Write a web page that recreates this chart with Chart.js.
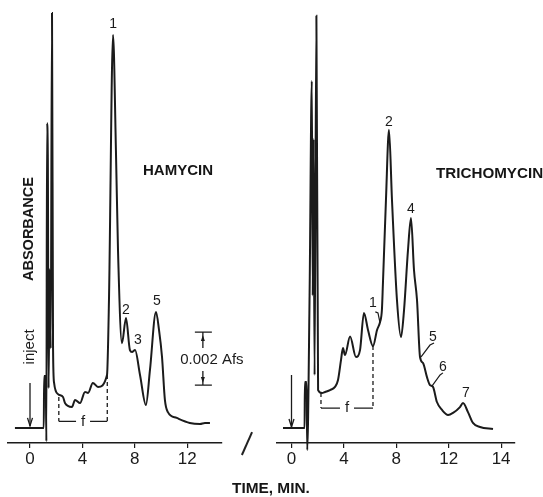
<!DOCTYPE html>
<html><head><meta charset="utf-8">
<script src="https://cdn.jsdelivr.net/npm/chart.js@4/dist/chart.umd.min.js"></script>
<style>
html,body{margin:0;padding:0;background:#fff;}
#wrap{position:relative;width:543px;height:497px;overflow:hidden;font-family:"Liberation Sans",Arial,sans-serif;color:#151515;}
canvas{position:absolute;top:0;}
.t{position:absolute;white-space:nowrap;font-weight:bold;}
</style></head>
<body><div id="wrap">
<canvas id="c1" width="260" height="497" style="left:0"></canvas>
<canvas id="c2" width="283" height="497" style="left:260px"></canvas>
<div class="t" style="left:143px;top:161px;font-size:15px;">HAMYCIN</div>
<div class="t" style="left:436px;top:164px;font-size:15.2px;">TRICHOMYCIN</div>
<div class="t" style="left:28px;top:229px;font-size:14.5px;transform:translate(-50%,-50%) rotate(-90deg);">ABSORBANCE</div>
<div class="t" style="left:232px;top:479px;font-size:15.4px;">TIME, MIN.</div>
<div style="position:absolute;left:246px;top:431px;width:1.6px;height:25px;background:#222;transform:rotate(24deg);"></div>
</div>
<script>
// ---- data (time in min, absorbance in mAU above baseline) ----
const hamycinTime = [-1.15, 1.05, 1.08, 1.2, 1.25, 1.3, 1.36, 1.42, 1.5, 1.58, 1.68, 1.76, 1.84, 2.14, 2.52, 2.67, 3.2, 3.44, 3.82, 4.2, 4.43, 4.8, 5.19, 5.88, 6.03, 6.34, 6.56, 6.72, 7.02, 7.33, 7.63, 7.79, 8.02, 8.4, 8.85, 9.16, 9.62, 9.85, 10.08, 10.3, 10.53, 11.2, 12.2, 12.98, 13.36, 13.74];
const hamycinAbs = [0, 0, 1.96, 1.96, -0.5, 11.5, 10.3, 1.5, 6, 3, 15.66, 3, 1.7, 1.28, 1.17, 0.94, 0.79, 1.06, 0.94, 1.36, 1.32, 1.70, 1.55, 2.0, 4.83, 14.83, 10.5, 6.7, 3.2, 4.15, 2.94, 2.87, 2.94, 2.0, 0.87, 2.19, 4.38, 3.7, 2.68, 1.06, 0.6, 0.38, 0.19, 0.15, 0.19, 0.19];

const trichoTime = [-0.65, 1.0, 1.02, 1.15, 1.2, 1.38, 1.55, 1.62, 1.68, 1.76, 1.9, 2.03, 2.33, 2.56, 2.94, 3.32, 3.55, 3.78, 3.93, 4.08, 4.47, 4.92, 5.23, 5.53, 5.84, 6.22, 6.53, 6.76, 6.9, 6.98, 7.21, 7.44, 7.67, 8.05, 8.36, 8.59, 8.89, 9.12, 9.35, 9.58, 9.81, 10.04, 10.34, 10.57, 10.8, 11.1, 11.49, 11.95, 12.33, 12.86, 13.09, 13.47, 13.85, 14.39, 15.38];
const trichoAbs = [0, 0, 1.74, 1.74, -0.83, 5, 13.09, 5, 10.9, 2, 15.55, 1.43, 1.32, 1.36, 1.43, 1.55, 1.81, 2.57, 3.02, 2.75, 3.45, 2.68, 2.94, 4.34, 3.70, 3.09, 3.70, 4.0, 4.45, 5.47, 8.6, 11.25, 8.6, 4.83, 3.43, 4.45, 6.7, 7.92, 5.96, 4.83, 2.68, 2.45, 1.92, 1.62, 1.55, 0.98, 0.68, 0.49, 0.57, 0.79, 0.94, 0.60, 0.19, 0.04, -0.04];

const hamycinTicks = [0, 4, 8, 12];
const hamycinTickLabels = ['0', '4', '8', '12'];
const trichoTicks = [0, 4, 8, 12, 16];
const trichoTickLabels = ['0', '4', '8', '12', '14'];

const hamycinPeakNames = ['1', '2', '3', '5'];
const hamycinPeakTimes = [6.34, 7.33, 8.24, 9.69];
const hamycinPeakAbs = [15.25, 4.45, 3.32, 4.79];

const trichoPeakNames = ['1', '2', '4', '5', '6', '7'];
const trichoPeakTimes = [6.22, 7.44, 9.12, 10.8, 11.56, 13.32];
const trichoPeakAbs = [4.72, 11.55, 8.26, 3.43, 2.3, 1.32];

// ---- annotation plugin ----
const INK = '#1b1b1b';
const annoPlugin = {
  id: 'chromAnno',
  afterDatasetsDraw(chart, args, o) {
    const {ctx, scales: {x, y}} = chart;
    const X = v => x.getPixelForValue(v), Y = v => y.getPixelForValue(v);
    ctx.save();
    ctx.fillStyle = INK; ctx.strokeStyle = INK;
    ctx.textAlign = 'center'; ctx.textBaseline = 'middle';
    // peak labels
    ctx.font = '14px "Liberation Sans", Arial, sans-serif';
    (o.names || []).forEach((n, i) => ctx.fillText(n, X(o.times[i]), Y(o.abs[i])));
    // leader lines
    ctx.lineWidth = 1.2; ctx.setLineDash([]);
    (o.leaders || []).forEach(l => {
      ctx.beginPath();
      l.forEach((p, i) => i ? ctx.lineTo(X(p[0]), Y(p[1])) : ctx.moveTo(X(p[0]), Y(p[1])));
      ctx.stroke();
    });
    // f bracket
    if (o.f) {
      const f = o.f, yb = Y(f.yb);
      ctx.lineWidth = 1.3; ctx.setLineDash([4, 3]);
      ctx.beginPath();
      ctx.moveTo(X(f.t1), Y(f.y1)); ctx.lineTo(X(f.t1), yb);
      ctx.moveTo(X(f.t2), Y(f.y2)); ctx.lineTo(X(f.t2), yb);
      ctx.stroke();
      ctx.setLineDash([]);
      const xm = (X(f.t1) + X(f.t2)) / 2;
      ctx.beginPath();
      ctx.moveTo(X(f.t1), yb); ctx.lineTo(xm - 7, yb);
      ctx.moveTo(xm + 7, yb); ctx.lineTo(X(f.t2), yb);
      ctx.stroke();
      ctx.font = '15px "Liberation Sans", Arial, sans-serif';
      ctx.fillText('f', xm, yb);
    }
    // inject arrow
    if (o.inject) {
      const g = o.inject, xi = X(g.t);
      ctx.lineWidth = 1.3;
      ctx.beginPath(); ctx.moveTo(xi, Y(g.top)); ctx.lineTo(xi, Y(g.bottom)); ctx.stroke();
      ctx.beginPath(); ctx.moveTo(xi - 2.5, Y(g.bottom) - 8); ctx.lineTo(xi, Y(g.bottom)); ctx.lineTo(xi + 2.5, Y(g.bottom) - 8); ctx.stroke();
      if (g.text) {
        ctx.save(); ctx.translate(xi, Y(g.textAt)); ctx.rotate(-Math.PI / 2);
        ctx.font = '15px "Liberation Sans", Arial, sans-serif';
        ctx.fillText(g.text, 0, 0); ctx.restore();
      }
    }
    // absorbance scale bar
    if (o.bar) {
      const b = o.bar, xb = X(b.t), yt = Y(b.top), ybt = Y(b.bottom);
      ctx.lineWidth = 1.3;
      ctx.beginPath();
      ctx.moveTo(xb - 8, yt); ctx.lineTo(xb + 9, yt);
      ctx.moveTo(xb - 8, ybt); ctx.lineTo(xb + 9, ybt);
      ctx.moveTo(xb, yt); ctx.lineTo(xb, yt + 16);
      ctx.moveTo(xb, ybt); ctx.lineTo(xb, ybt - 14);
      ctx.stroke();
      ctx.beginPath(); ctx.moveTo(xb - 2, yt + 9); ctx.lineTo(xb, yt + 3); ctx.lineTo(xb + 2, yt + 9); ctx.fill();
      ctx.beginPath(); ctx.moveTo(xb - 2, ybt - 8); ctx.lineTo(xb, ybt - 2); ctx.lineTo(xb + 2, ybt - 8); ctx.fill();
      ctx.font = '15px "Liberation Sans", Arial, sans-serif';
      ctx.fillStyle = '#fff';
      ctx.fillStyle = INK;
      ctx.fillText(b.text, xb + 9, (yt + ybt) / 2 + 1);
    }
    ctx.restore();
  }
};

function makeChart(id, times, abs, ticks, tickLabels, xmin, xmax, pad, anno) {
  return new Chart(document.getElementById(id), {
    type: 'line',
    data: { datasets: [{
      data: times.map((t, i) => ({x: t, y: abs[i]})),
      borderColor: INK, borderWidth: 2, pointRadius: 0,
      cubicInterpolationMode: 'monotone', fill: false, clip: false
    }]},
    options: {
      responsive: false, animation: false, devicePixelRatio: 1,
      layout: { padding: pad },
      plugins: { legend: {display: false}, tooltip: {enabled: false}, chromAnno: anno },
      scales: {
        x: {
          type: 'linear', min: xmin, max: xmax,
          afterBuildTicks: s => { s.ticks = ticks.map(v => ({value: v})); },
          afterFit: s => { s.height = 30; },
          grid: { display: true, drawOnChartArea: false, drawTicks: true, tickLength: 5, color: INK, lineWidth: 1.2 },
          border: { display: true, color: INK, width: 1.5 },
          ticks: { color: INK, padding: 1, maxRotation: 0, autoSkip: false,
            font: { size: 17, family: '"Liberation Sans", Arial, sans-serif' },
            callback: (v, i) => tickLabels[i] }
        },
        y: { display: false, min: -0.566, max: 15.96 }
      }
    },
    plugins: [annoPlugin]
  });
}

makeChart('c1', hamycinTime, hamycinAbs, hamycinTicks, hamycinTickLabels, -1.68, 14.66,
  {left: 8, right: 38, top: 5, bottom: 24},
  { names: hamycinPeakNames, times: hamycinPeakTimes, abs: hamycinPeakAbs,
    f: {t1: 2.2, y1: 1.17, t2: 5.9, y2: 2.0, yb: 0.25},
    inject: {t: 0, top: 1.7, bottom: 0.08, text: 'inject', textAt: 3.06},
    bar: {t: 13.2, top: 3.62, bottom: 1.62, text: '0.002 Afs'} });

makeChart('c2', trichoTime, trichoAbs, trichoTicks, trichoTickLabels, -1.107, 17.06,
  {left: 17, right: 28, top: 5, bottom: 24},
  { names: trichoPeakNames, times: trichoPeakTimes, abs: trichoPeakAbs,
    leaders: [
      [[6.4, 4.38], [6.6, 4.34], [6.76, 3.96]],
      [[10.88, 3.21], [10.57, 3.13], [9.89, 2.68]],
      [[11.56, 2.08], [11.34, 2.0], [10.72, 1.58]]
    ],
    f: {t1: 2.25, y1: 1.32, t2: 6.22, y2: 3.09, yb: 0.75},
    inject: {t: 0, top: 2.0, bottom: 0.04} });
</script>
</body></html>
